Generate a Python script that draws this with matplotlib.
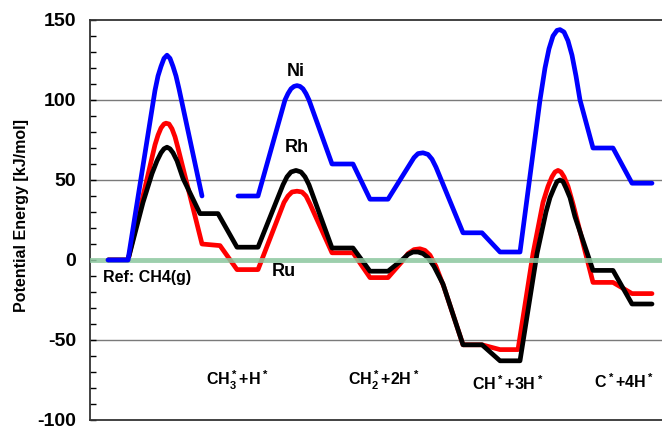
import numpy as np
import matplotlib
matplotlib.use("Agg")
import matplotlib.pyplot as plt

plt.rcParams['font.family'] = ['Liberation Sans', 'DejaVu Sans']
plt.rcParams['font.weight'] = 'bold'
plt.rcParams['mathtext.default'] = 'regular'
plt.rcParams['axes.unicode_minus'] = False

nan = np.nan
# Reaction-coordinate positions (arbitrary units) and energies [kJ/mol]
ni_x = [108, 128, 155, 158, 161, 164, 167, 170, 173, 176, 179, 202, nan,
        238, 258, 285, 288, 291, 294, 297, 300, 303, 306, 309, 332, 353,
        370, 388, 410, 414, 418, 423, 428, 432, 436, 463, 482, 500, 520,
        540, 545, 549, 553, 557, 560, 564, 568, 572, 576, 580, 593, 613, 632, 652]
ni_y = [0, 0, 106, 115, 121, 126, 128, 126, 121, 115, 107, 40, nan,
        40, 40, 100, 104, 107, 108.5, 109, 108.5, 107, 104, 100, 60, 60,
        38, 38, 60, 64, 66.5, 67, 66, 63, 58, 17, 17, 5, 5,
        100, 120, 132, 140, 143.5, 144, 142.5, 137, 128, 115, 100, 70, 70, 48, 48]

ru_x = [108, 128, 155, 158, 161, 164, 166, 169, 172, 175, 178, 202, 220, 237, 258,
        284, 288, 292, 297, 302, 306, 310, 332, 353,
        370, 388, 402, 408, 414, 420, 425, 430, 436, 444, 463, 482, 500, 518,
        533, 543, 548, 552, 555, 558, 561, 564, 568, 573, 593, 613, 632, 652]
ru_y = [0, 0, 72, 78, 82.5, 85, 85.5, 85, 82, 77, 70, 10, 9, -6, -6,
        36, 40, 42.5, 43, 42.5, 40, 35, 4.5, 4.5,
        -11, -11, -1, 4, 6.5, 7, 6, 3, -4, -17, -53, -53, -56, -56,
        4, 36, 46, 52, 55, 56, 55, 52, 46, 35, -14, -14, -21, -21]

rh_x = [108, 128, 143, 152, 157, 161, 164, 167, 170, 173, 177, 183, 200, 218, 237, 258,
        283, 287, 291, 296, 301, 305, 309, 332, 353,
        370, 388, 402, 408, 413, 418, 423, 428, 434, 443, 463, 482, 500, 520,
        537, 546, 550, 554, 557, 560, 563, 566, 570, 575, 593, 613, 632, 652]
rh_y = [0, 0, 36, 54, 62, 67, 69.5, 70.5, 69.5, 67, 62, 51, 29, 29, 8, 8,
        47, 52, 55, 56, 55, 52, 47, 7.5, 7.5,
        -7, -7, 0, 3.5, 5, 5, 4, 1.5, -4, -15, -53, -53, -63, -63,
        4, 30, 39, 45, 49, 50, 49, 45, 39, 27, -6.5, -6.5, -27.5, -27.5]

metal_labels = ['Ni', 'Rh', 'Ru']
step_labels = [r'CH$_3^*$+H$^*$', r'CH$_2^*$+2H$^*$', r'CH$^*$+3H$^*$', r'C$^*$+4H$^*$']
y_ticks = [-100, -50, 0, 50, 100, 150]

W, H = 662, 426
fig = plt.figure(figsize=(W / 100, H / 100), dpi=100)
ax = fig.add_axes([90 / W, 6 / H, 580 / W, 400 / H])
ax.set_xlim(90, 670)
ax.set_ylim(-100, 150)

for g in [-50, 50, 100]:
    ax.axhline(g, color='#7a7a7a', lw=1.0, zorder=1)

kw = dict(lw=3.4, solid_joinstyle='round', solid_capstyle='round')
ax.plot(ru_x, ru_y, color='#ff0000', zorder=3, **kw)
ax.plot(rh_x, rh_y, color='#000000', zorder=4, **kw)
ax.axhline(0, color='#8cc79f', lw=3.5, alpha=0.85, zorder=5)
ax.plot(ni_x, ni_y, color='#0000ff', zorder=6, **kw)

ax.text(296, 118, metal_labels[0], fontsize=13, fontweight='bold', ha='center', va='center')
ax.text(297, 70, metal_labels[1], fontsize=13, fontweight='bold', ha='center', va='center')
ax.text(284, -7.5, metal_labels[2], fontsize=13, fontweight='bold', ha='center', va='center')
ax.text(103, -11, 'Ref: CH4(g)', fontsize=11.5, fontweight='bold', ha='left', va='center')

step_pos = [(237, -75), (384, -75), (508, -77.5), (624, -76)]
for (sx, sy), lab in zip(step_pos, step_labels):
    ax.text(sx, sy, lab, fontsize=11.5, fontweight='bold', ha='center', va='center')

ax.set_yticks(y_ticks)
ax.set_yticks(np.arange(-100, 151, 10), minor=True)
ax.set_xticks([])
ax.tick_params(axis='y', which='both', direction='in', length=4, width=1, pad=10,
               labelsize=14, right=False)
for lab in ax.get_yticklabels():
    lab.set_fontweight('bold')
for s in ['left', 'top', 'bottom']:
    ax.spines[s].set_linewidth(1.3)
    ax.spines[s].set_color('#333333')
ax.spines['right'].set_visible(False)

ax.set_ylabel('Potential Energy [kJ/mol]', fontsize=11.5, fontweight='bold')
ax.yaxis.set_label_coords(-61 / 580, 0.51)

fig.savefig('out.png', dpi=100)
